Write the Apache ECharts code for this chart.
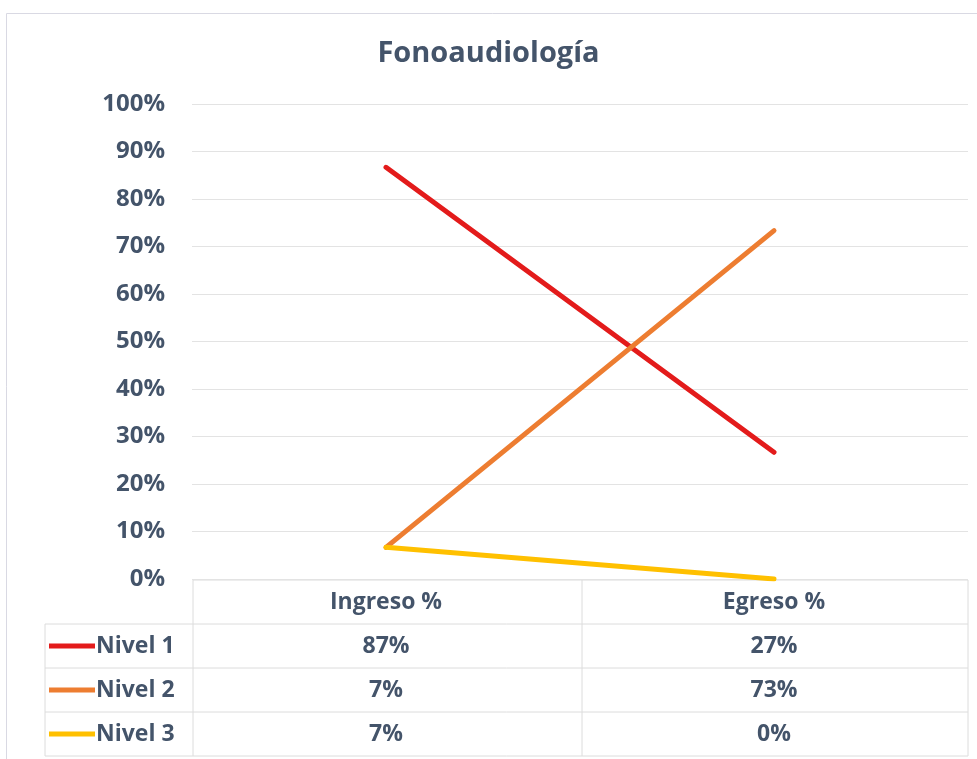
<!DOCTYPE html>
<html><head><meta charset="utf-8">
<script src="https://cdn.jsdelivr.net/npm/echarts@6/dist/echarts.min.js"></script>
<style>html,body{margin:0;padding:0;background:#fff}#c{width:977px;height:759px}</style>
</head><body><div id="c"></div>
<script>
const titleText = 'Fonoaudiología';
const categories = ['Ingreso %', 'Egreso %'];
const seriesNames = ['Nivel 1', 'Nivel 2', 'Nivel 3'];
const nivel1 = [86.67, 26.67];
const nivel2 = [6.67, 73.33];
const nivel3 = [6.67, 0];
const yTicks = [0, 10, 20, 30, 40, 50, 60, 70, 80, 90, 100];

const allSeries = [nivel1, nivel2, nivel3];
const colors = ['#e31b1b', '#ed7d31', '#ffc000'];
const txt = '#44546a';
const font = '"Open Sans", "Noto Sans", sans-serif';
const fmt = v => Math.round(v) + '%';

const chart = echarts.init(document.getElementById('c'));

const T = 580, RH = 44, L = 45, C0 = 193, C1 = 582, R = 968;
const border = '#dcdcdc';
const graphics = [];
graphics.push({type:'rect', left:4, top:11, shape:{width:990, height:760}, style:{fill:'none', stroke:'#d9d9e3', lineWidth:1}, silent:true, z:-1});
const hl = (x1,x2,y) => graphics.push({type:'line', shape:{x1, y1:y, x2, y2:y}, style:{stroke:border, lineWidth:1}, silent:true});
const vl = (x,y1,y2) => graphics.push({type:'line', shape:{x1:x, y1, x2:x, y2}, style:{stroke:border, lineWidth:1}, silent:true});
hl(C0, R, T);
for (let i = 1; i <= 4; i++) hl(L, R, T + RH*i);
vl(L, T+RH, T+RH*4);
vl(C0, T, T+RH*4);
vl(C1, T, T+RH*4);
vl(R, T, T+RH*4);
seriesNames.forEach((n, i) => {
  const cy = T + RH*(i+1) + RH/2;
  graphics.push({type:'line', shape:{x1:49, y1:cy, x2:95, y2:cy}, style:{stroke:colors[i], lineWidth:5}, silent:true});
  graphics.push({type:'text', x:96, y:cy, style:{text:n, fill:txt, font:'bold 23px ' + font, textVerticalAlign:'middle', textAlign:'left'}, silent:true});
});

chart.setOption({
  animation:false,
  title:{text:titleText, left:'center', top:34, textStyle:{color:txt, fontSize:29, fontWeight:'bold', fontFamily:font}},
  grid:{left:192, right:9, top:104, bottom:180},
  xAxis:{type:'category', data:categories, boundaryGap:true,
    axisLine:{show:false}, axisTick:{show:false},
    axisLabel:{margin:1, lineHeight:RH, color:txt, fontSize:23, fontWeight:'bold', fontFamily:font,
      formatter:(v, idx) => [v, fmt(nivel1[idx]), fmt(nivel2[idx]), fmt(nivel3[idx])].join('\n')}},
  yAxis:{type:'value', min:yTicks[0], max:yTicks[yTicks.length-1], interval:10,
    axisLine:{show:false}, axisTick:{show:false},
    splitLine:{lineStyle:{color:'#e3e3e3', width:1}},
    axisLabel:{margin:27, color:txt, fontSize:24, fontWeight:'bold', fontFamily:font, formatter:v => v + '%'}},
  series: seriesNames.map((n, i) => ({
    name:n, type:'line', data:allSeries[i], symbol:'none',
    lineStyle:{color:colors[i], width:5, cap:'round'}, itemStyle:{color:colors[i]}
  })),
  graphic: graphics
});
</script></body></html>
